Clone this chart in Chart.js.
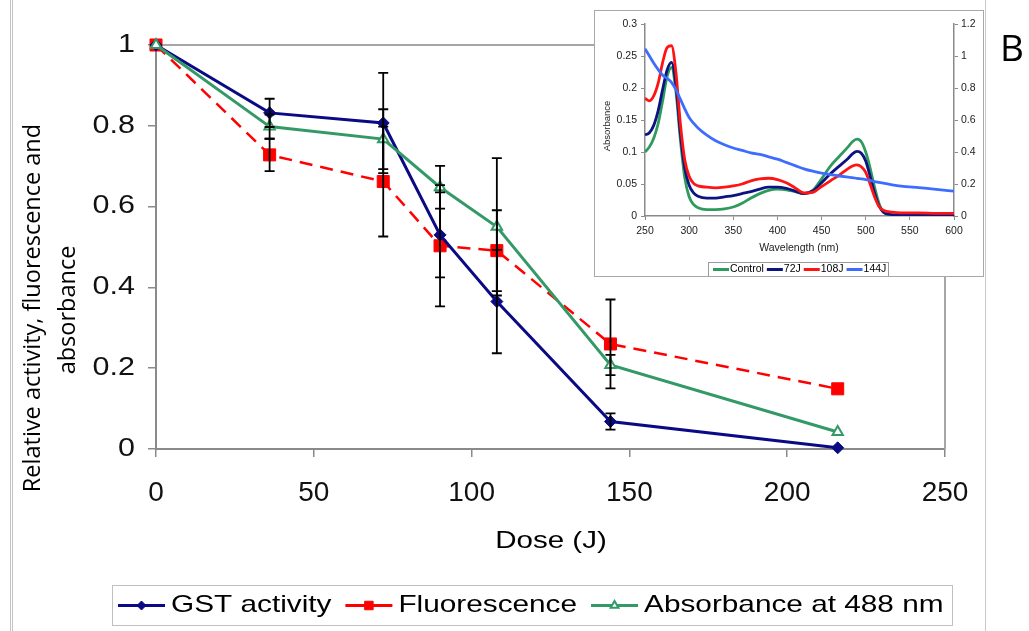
<!DOCTYPE html>
<html>
<head>
<meta charset="utf-8">
<script src="https://cdn.jsdelivr.net/npm/chart.js@4.4.1/dist/chart.umd.min.js"></script>
<style>
  body { margin: 0; background: #fff; }
  #wrap { position: relative; width: 1029px; height: 631px; overflow: hidden; }
  #frame { position: absolute; left: 10px; top: -5px; width: 972px; height: 650px;
           border-left: 3px double #c4c4c4; border-right: 1px solid #c8c8c8; }
  #main { position: absolute; left: 0; top: 0; }
  #insetBox { position: absolute; left: 594px; top: 10px; width: 388px; height: 265px;
              border: 1px solid #a8a8a8; background: #fff; }
  #inset { display: block; }
</style>
</head>
<body>
<div id="wrap">
  <div id="frame"></div>
  <canvas id="main" width="1029" height="631"></canvas>
  <div id="insetBox"><canvas id="inset" width="388" height="265"></canvas></div>
</div>
<script>
// main chart: relative values vs dose
const doses = [0, 36, 72, 90, 108, 144, 216];
const gstActivity = [1, 0.832, 0.807, 0.53, 0.365, 0.068, 0.003];
const fluorescence = [1, 0.728, 0.662, 0.503, 0.491, 0.26, 0.149];
const absorbance488 = [1, 0.798, 0.767, 0.648, 0.55, 0.208, 0.042];
const gstErr = [0, 0.035, 0.124, 0.105, 0.128, 0.02, 0];
const fluoErr = [0, 0.04, 0.136, 0.15, 0.1, 0.11, 0];
const absErr = [0, 0.03, 0.074, 0.053, 0.17, 0.025, 0];

// inset: absorbance spectra
const wavelengths = [250, 255, 260, 265, 270, 275, 280, 285, 290, 295, 300, 305, 310,
  320, 330, 340, 350, 360, 370, 380, 390, 400, 410, 420, 430, 440, 450, 460, 470, 480,
  485, 490, 495, 500, 505, 510, 515, 520, 530, 540, 560, 580, 600];
const control = [0.100, 0.108, 0.122, 0.145, 0.180, 0.218, 0.232, 0.195, 0.120, 0.060, 0.030, 0.018, 0.013,
  0.010, 0.010, 0.011, 0.014, 0.020, 0.028, 0.035, 0.040, 0.042, 0.041, 0.038, 0.035, 0.040, 0.058, 0.078, 0.093, 0.108,
  0.116, 0.120, 0.116, 0.100, 0.075, 0.045, 0.020, 0.006, 0.001, 0, 0, 0, 0];
const dose72 = [0.127, 0.130, 0.142, 0.165, 0.198, 0.228, 0.240, 0.205, 0.130, 0.075, 0.048, 0.036, 0.031,
  0.028, 0.028, 0.030, 0.032, 0.035, 0.038, 0.042, 0.045, 0.045, 0.043, 0.039, 0.035, 0.039, 0.052, 0.066, 0.078, 0.090,
  0.097, 0.101, 0.098, 0.086, 0.062, 0.036, 0.016, 0.006, 0.002, 0.001, 0.001, 0.001, 0.001];
const dose108 = [0.184, 0.180, 0.188, 0.208, 0.240, 0.263, 0.266, 0.225, 0.145, 0.088, 0.062, 0.051, 0.047,
  0.045, 0.044, 0.045, 0.047, 0.050, 0.055, 0.058, 0.059, 0.057, 0.052, 0.044, 0.036, 0.037, 0.046, 0.055, 0.064, 0.074,
  0.078, 0.080, 0.077, 0.068, 0.050, 0.030, 0.015, 0.009, 0.006, 0.005, 0.005, 0.004, 0.004];
const dose144 = [1.045, 1.00, 0.955, 0.915, 0.88, 0.86, 0.835, 0.79, 0.73, 0.67, 0.615, 0.58, 0.55,
  0.505, 0.47, 0.445, 0.425, 0.41, 0.395, 0.385, 0.37, 0.355, 0.335, 0.315, 0.295, 0.28, 0.268, 0.258, 0.25, 0.243,
  0.24, 0.235, 0.232, 0.228, 0.222, 0.215, 0.21, 0.205, 0.195, 0.187, 0.177, 0.167, 0.155];

const NAVY = '#0a0a84', RED = '#ff0000', GREEN = '#339966', AXIS = '#8a8a8a';
const SANS = '"Liberation Sans", Arial, sans-serif';

const pts = (xs, ys) => xs.map((x, i) => ({ x, y: ys[i] }));
const fmt = v => String(parseFloat(v.toFixed(2)));

// text with optional horizontal stretch / rotation
function txt(ctx, s, x, y, o) {
  ctx.save();
  ctx.translate(x, y);
  if (o.rot) ctx.rotate(o.rot);
  ctx.scale(o.sx || 1, 1);
  ctx.font = o.font;
  ctx.fillStyle = o.color || '#000';
  ctx.textAlign = o.align || 'center';
  ctx.textBaseline = 'middle';
  ctx.fillText(s, 0, 0);
  ctx.restore();
}
function textWidth(ctx, s, font, sx) {
  ctx.save(); ctx.font = font;
  const w = ctx.measureText(s).width * (sx || 1);
  ctx.restore();
  return w;
}

const plotFrame = {
  id: 'plotFrame',
  beforeDatasetsDraw(chart) {
    const { ctx, chartArea: a } = chart;
    ctx.save();
    ctx.strokeStyle = '#a6a6a6';
    ctx.lineWidth = 2;
    ctx.beginPath();
    ctx.moveTo(a.left, a.top); ctx.lineTo(a.right, a.top); ctx.lineTo(a.right, a.bottom);
    ctx.stroke();
    ctx.restore();
  }
};

const errorBars = {
  id: 'errorBars',
  afterDatasetsDraw(chart) {
    const { ctx, scales: { x, y } } = chart;
    ctx.save();
    ctx.strokeStyle = '#000';
    ctx.lineWidth = 1.8;
    chart.data.datasets.forEach(ds => {
      (ds.errors || []).forEach((e, i) => {
        if (!e) return;
        const p = ds.data[i];
        const px = x.getPixelForValue(p.x);
        const top = y.getPixelForValue(p.y + e), bot = y.getPixelForValue(p.y - e);
        ctx.beginPath();
        ctx.moveTo(px, top); ctx.lineTo(px, bot);
        ctx.moveTo(px - 5, top); ctx.lineTo(px + 5, top);
        ctx.moveTo(px - 5, bot); ctx.lineTo(px + 5, bot);
        ctx.stroke();
      });
    });
    ctx.restore();
  }
};

const mainText = {
  id: 'mainText',
  afterDraw(chart) {
    const { ctx, scales: { x, y } } = chart;
    y.ticks.forEach(t => txt(ctx, fmt(t.value), 135, y.getPixelForValue(t.value),
      { font: '25px ' + SANS, align: 'right', sx: 1.22, color: '#111' }));
    x.ticks.forEach(t => txt(ctx, fmt(t.value), x.getPixelForValue(t.value), 493,
      { font: '28px ' + SANS, color: '#111' }));
    txt(ctx, 'Dose (J)', 551, 541, { font: '24px ' + SANS, sx: 1.23 });
    txt(ctx, 'Relative activity, fluorescence and', 33, 308, { font: '23.5px "Open Sans"', rot: -Math.PI / 2 });
    txt(ctx, 'absorbance', 68, 310, { font: '23.5px "Open Sans"', rot: -Math.PI / 2 });
    txt(ctx, 'B', 1012, 50, { font: '37px "Open Sans"' });

    // legend box
    ctx.save();
    ctx.fillStyle = '#fff';
    ctx.fillRect(113, 586, 839, 39);
    ctx.strokeStyle = '#c0c0c0';
    ctx.lineWidth = 1;
    ctx.strokeRect(112.5, 585.5, 840, 40);
    ctx.restore();
    const font = '24px ' + SANS, sx = 1.24, cy = 605.5;
    const marks = [4.5, 6, 4.5];
    let lx = 118;
    chart.data.datasets.forEach((ds, i) => {
      ctx.save();
      ctx.strokeStyle = ds.borderColor;
      ctx.lineWidth = 3;
      ctx.beginPath(); ctx.moveTo(lx, cy); ctx.lineTo(lx + 47, cy); ctx.stroke();
      ctx.fillStyle = ds.pointBackgroundColor;
      ctx.strokeStyle = ds.pointBorderColor;
      ctx.lineWidth = ds.pointBorderWidth;
      Chart.helpers.drawPoint(ctx, { pointStyle: ds.pointStyle, radius: marks[i], rotation: 0, borderWidth: ds.pointBorderWidth }, lx + 23.5, cy);
      ctx.restore();
      lx += 53;
      txt(ctx, ds.label, lx, cy, { font, align: 'left', sx });
      lx += textWidth(ctx, ds.label, font, sx) + 14;
    });
  }
};

new Chart(document.getElementById('main'), {
  type: 'line',
  data: {
    datasets: [
      { label: 'GST activity', data: pts(doses, gstActivity), errors: gstErr,
        borderColor: NAVY, borderWidth: 3, pointStyle: 'rectRot', pointRadius: 6,
        pointBackgroundColor: NAVY, pointBorderColor: NAVY, pointBorderWidth: 1, order: 1 },
      { label: 'Fluorescence', data: pts(doses, fluorescence), errors: fluoErr,
        borderColor: RED, borderWidth: 2.5, borderDash: [13, 8], pointStyle: 'rect', pointRadius: 8.5,
        pointBackgroundColor: RED, pointBorderColor: RED, pointBorderWidth: 1, order: 2 },
      { label: 'Absorbance at 488 nm', data: pts(doses, absorbance488), errors: absErr,
        borderColor: GREEN, borderWidth: 3, pointStyle: 'triangle', pointRadius: 6,
        pointBackgroundColor: '#fff', pointBorderColor: GREEN, pointBorderWidth: 2, order: 0 }
    ]
  },
  options: {
    responsive: false,
    animation: false,
    devicePixelRatio: 1,
    clip: false,
    layout: { padding: { top: 45, right: 84, left: 0, bottom: 0 } },
    plugins: { legend: { display: false }, tooltip: { enabled: false } },
    scales: {
      x: {
        type: 'linear', min: 0, max: 250,
        ticks: { stepSize: 50, display: false },
        grid: { drawOnChartArea: false, tickLength: 8, tickColor: AXIS, lineWidth: 1.5 },
        border: { color: AXIS, width: 2 },
        afterFit: s => { s.height = 182; }
      },
      y: {
        min: 0, max: 1,
        ticks: { stepSize: 0.2, display: false },
        grid: { drawOnChartArea: false, tickLength: 8, tickColor: AXIS, lineWidth: 1.5 },
        border: { color: AXIS, width: 2 },
        afterFit: s => { s.width = 156; }
      }
    }
  },
  plugins: [plotFrame, errorBars, mainText]
});

const insetText = {
  id: 'insetText',
  afterDraw(chart) {
    const { ctx, scales: { x, y, y2 } } = chart;
    const f = '10.5px ' + SANS;
    y.ticks.forEach(t => txt(ctx, fmt(t.value), 42, y.getPixelForValue(t.value), { font: f, align: 'right', color: '#222' }));
    y2.ticks.forEach(t => txt(ctx, fmt(t.value), 366, y2.getPixelForValue(t.value), { font: f, align: 'left', color: '#222' }));
    x.ticks.forEach(t => txt(ctx, fmt(t.value), x.getPixelForValue(t.value), 220, { font: f, color: '#222' }));
    txt(ctx, 'Wavelength (nm)', 204, 237, { font: f, color: '#222' });
    txt(ctx, 'Absorbance', 12, 115, { font: '9.5px ' + SANS, rot: -Math.PI / 2, color: '#222' });

    ctx.save();
    ctx.fillStyle = '#fff';
    ctx.fillRect(113, 252, 180, 13);
    ctx.strokeStyle = '#9a9a9a';
    ctx.lineWidth = 1;
    ctx.strokeRect(113.5, 251.5, 180, 14);
    ctx.restore();
    let lx = 118;
    const cy = 258.5;
    chart.data.datasets.forEach(ds => {
      ctx.save();
      ctx.strokeStyle = ds.borderColor;
      ctx.lineWidth = 3;
      ctx.beginPath(); ctx.moveTo(lx, cy); ctx.lineTo(lx + 16, cy); ctx.stroke();
      ctx.restore();
      lx += 17;
      txt(ctx, ds.label, lx, cy, { font: f, align: 'left' });
      lx += textWidth(ctx, ds.label, f) + 3;
    });
  }
};

new Chart(document.getElementById('inset'), {
  type: 'line',
  data: {
    datasets: [
      { label: 'Control', data: pts(wavelengths, control), borderColor: '#2f9a5e', yAxisID: 'y', order: 3 },
      { label: '72J', data: pts(wavelengths, dose72), borderColor: '#0c1480', yAxisID: 'y', order: 2 },
      { label: '108J', data: pts(wavelengths, dose108), borderColor: '#ff1414', yAxisID: 'y', order: 1 },
      { label: '144J', data: pts(wavelengths, dose144), borderColor: '#3d6dff', yAxisID: 'y2', order: 0 }
    ]
  },
  options: {
    responsive: false,
    animation: false,
    devicePixelRatio: 1,
    datasets: { line: { pointRadius: 0, borderWidth: 2.8, cubicInterpolationMode: 'monotone' } },
    layout: { padding: { top: 13, right: 0, left: 0, bottom: 0 } },
    plugins: { legend: { display: false }, tooltip: { enabled: false } },
    scales: {
      x: {
        type: 'linear', min: 250, max: 600,
        ticks: { stepSize: 50, display: false },
        grid: { drawOnChartArea: false, tickLength: 4, tickColor: AXIS },
        border: { color: AXIS, width: 1.5 },
        afterFit: s => { s.height = 60; }
      },
      y: {
        position: 'left', min: 0, max: 0.3,
        ticks: { stepSize: 0.05, display: false },
        grid: { drawOnChartArea: false, tickLength: 4, tickColor: AXIS },
        border: { color: AXIS, width: 1.5 },
        afterFit: s => { s.width = 50; }
      },
      y2: {
        position: 'right', min: 0, max: 1.2,
        ticks: { stepSize: 0.2, display: false },
        grid: { drawOnChartArea: false, tickLength: 4, tickColor: AXIS },
        border: { color: AXIS, width: 1.5 },
        afterFit: s => { s.width = 29; }
      }
    }
  },
  plugins: [insetText]
});
</script>
</body>
</html>
